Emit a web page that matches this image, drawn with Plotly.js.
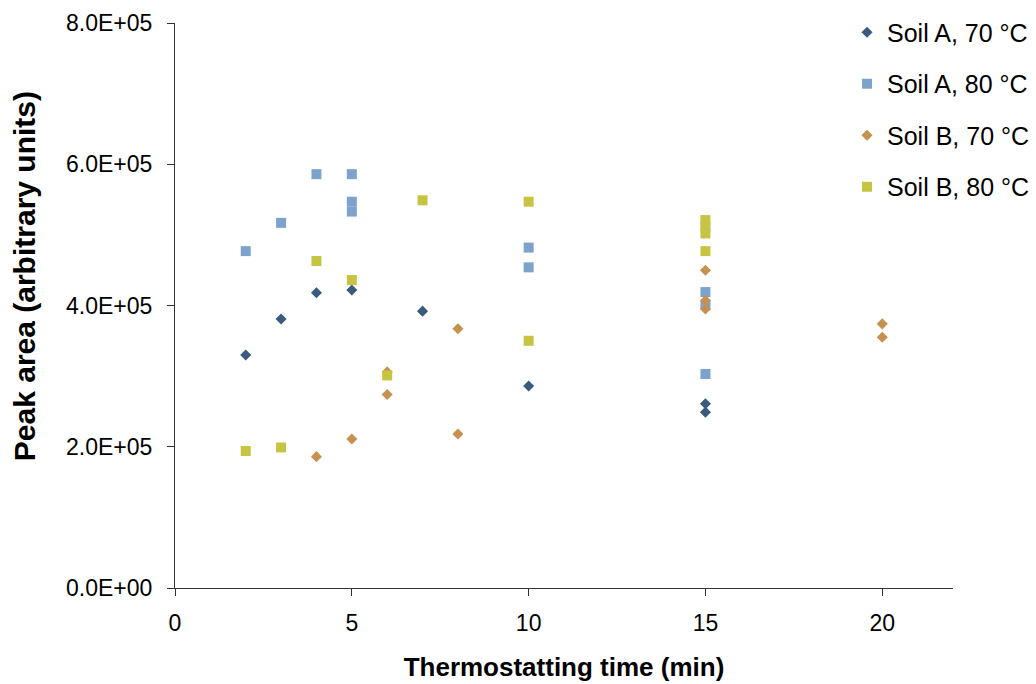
<!DOCTYPE html>
<html>
<head>
<meta charset="utf-8">
<script src="https://cdn.plot.ly/plotly-3.0.1.min.js"></script>
<style>
  html, body { margin: 0; padding: 0; background: #fff; }
  #chart { width: 1036px; height: 684px; }
</style>
</head>
<body>
<div id="chart"></div>
<script>
// Peak area versus thermostatting time for two soils at two temperatures
const soilA70_x = [2, 3, 4, 5, 7, 10, 15, 15];
const soilA70_y = [3.30e5, 3.81e5, 4.18e5, 4.22e5, 3.92e5, 2.86e5, 2.61e5, 2.49e5];

const soilA80_x = [2, 3, 4, 5, 5, 5, 10, 10, 15, 15, 15];
const soilA80_y = [4.77e5, 5.17e5, 5.86e5, 5.86e5, 5.47e5, 5.33e5, 4.82e5, 4.54e5, 4.19e5, 4.01e5, 3.03e5];

const soilB70_x = [4, 5, 6, 6, 8, 8, 15, 15, 15, 20, 20];
const soilB70_y = [1.86e5, 2.11e5, 3.06e5, 2.74e5, 3.67e5, 2.18e5, 4.50e5, 4.07e5, 3.95e5, 3.74e5, 3.55e5];

const soilB80_x = [2, 3, 4, 5, 6, 7, 10, 10, 15, 15, 15, 15];
const soilB80_y = [1.94e5, 1.99e5, 4.63e5, 4.36e5, 3.01e5, 5.49e5, 5.47e5, 3.50e5, 5.21e5, 5.12e5, 5.02e5, 4.77e5];

const seriesNames = ['Soil A, 70 °C', 'Soil A, 80 °C', 'Soil B, 70 °C', 'Soil B, 80 °C'];

const xTickVals = [0, 5, 10, 15, 20];
const yTickVals = [0, 2e5, 4e5, 6e5, 8e5];
const yTickText = ['0.0E+00', '2.0E+05', '4.0E+05', '6.0E+05', '8.0E+05'];

const colors = ['#3A5B7E', '#7CA3CB', '#C6914F', '#C8C443'];

function series(x, y, i, symbol, size) {
  return {
    type: 'scatter', mode: 'markers', x: x, y: y, name: seriesNames[i],
    legendgroup: 'g' + i,
    marker: { symbol: symbol, size: size, color: colors[i], line: { width: 0 } },
    hoverinfo: 'x+y+name'
  };
}

const data = [
  series(soilA70_x, soilA70_y, 0, 'diamond', 8.5),
  series(soilA80_x, soilA80_y, 1, 'square', 10),
  series(soilB70_x, soilB70_y, 2, 'diamond', 8.5),
  series(soilB80_x, soilB80_y, 3, 'square', 10)
];

const layout = {
  width: 1036, height: 684,
  margin: { l: 175, r: 83, t: 23, b: 96, autoexpand: false },
  paper_bgcolor: '#fff', plot_bgcolor: '#fff',
  font: { family: 'Liberation Sans, Arial, sans-serif', color: '#000', size: 22 },
  showlegend: true,
  legend: {
    x: 0.8638, xanchor: 'left', y: 1.024, yanchor: 'top',
    traceorder: 'grouped', tracegroupgap: 16,
    font: { size: 25, color: '#000' },
    bgcolor: 'rgba(0,0,0,0)', itemwidth: 30
  },
  xaxis: {
    range: [0, 22], tickvals: xTickVals,
    automargin: false,
    showgrid: false, zeroline: false, showline: true, linecolor: '#333', linewidth: 1,
    ticks: 'outside', ticklen: 7, tickcolor: '#333', ticklabelstandoff: 7,
    tickfont: { size: 23 },
    title: { text: '<b>Thermostatting time (min)</b>', standoff: 23, font: { size: 26 } }
  },
  yaxis: {
    range: [0, 8e5], tickvals: yTickVals, ticktext: yTickText,
    automargin: false,
    showgrid: false, zeroline: false, showline: true, linecolor: '#333', linewidth: 1,
    ticks: 'outside', ticklen: 7, tickcolor: '#333', ticklabelstandoff: 10,
    tickfont: { size: 23 }
  },
  annotations: [{
    text: '<b>Peak area (arbitrary units)</b>',
    xref: 'paper', yref: 'paper', x: -0.194, y: 0.552,
    xanchor: 'center', yanchor: 'middle', textangle: -90,
    showarrow: false, font: { size: 30, color: '#000' }
  }]
};

Plotly.newPlot('chart', data, layout, { displayModeBar: false });
</script>
</body>
</html>
